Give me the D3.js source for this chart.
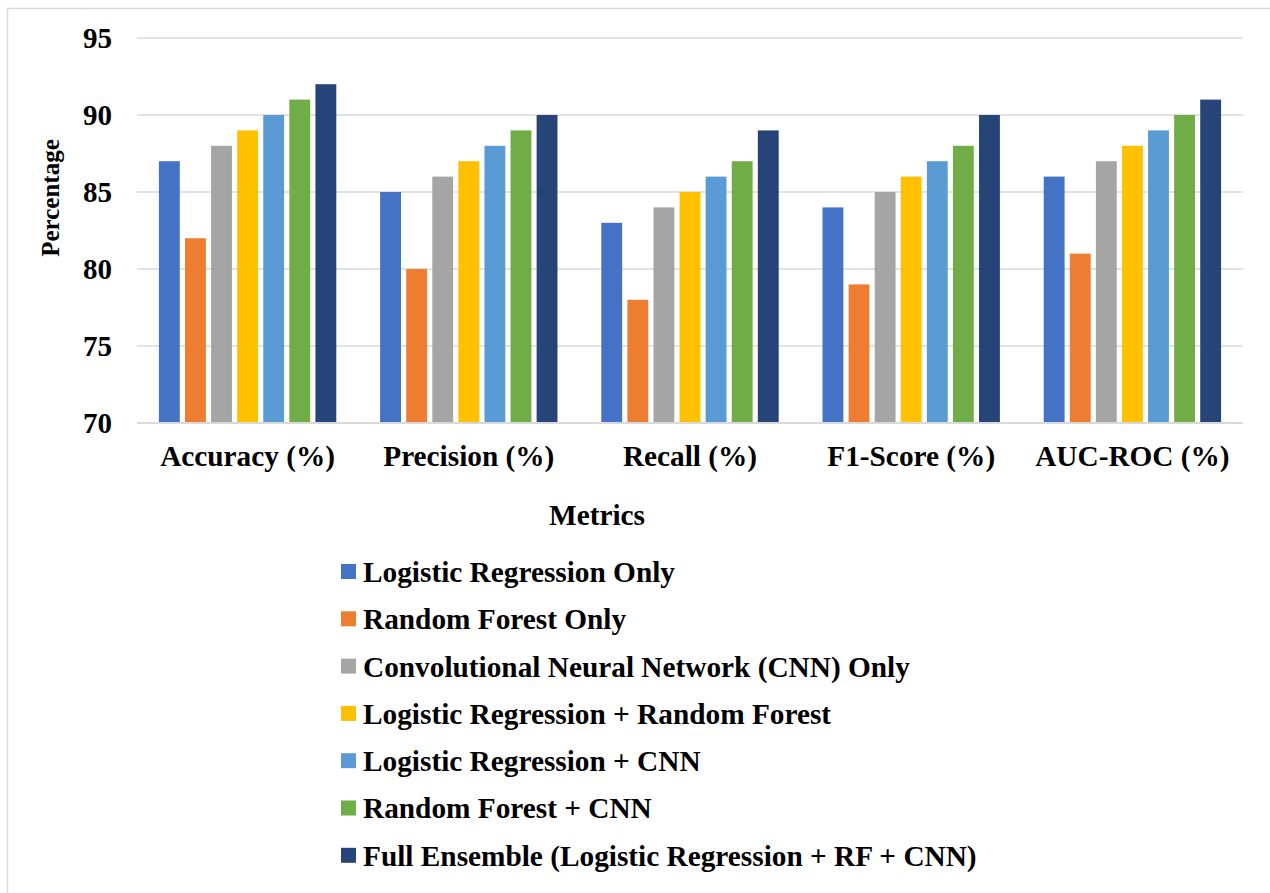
<!DOCTYPE html>
<html>
<head>
  <title>Metrics by model</title>
  <style>
    body { margin: 0; background: #fff; }
    .chart text { font-family: "Liberation Serif", "Times New Roman", serif; font-weight: bold; fill: #000; }
    .grid line { stroke: #d9d9d9; stroke-width: 1.5; }
  </style>
</head>
<body>
  <svg id="chart" class="chart" width="1270" height="893"></svg>

  <script src="https://d3js.org/d3.v7.min.js"></script>
  <script>
    // categories on the x axis
    const metrics = ['Accuracy (%)', 'Precision (%)', 'Recall (%)', 'F1-Score (%)', 'AUC-ROC (%)'];

    // one series per model
    const models = [
      'Logistic Regression Only',
      'Random Forest Only',
      'Convolutional Neural Network (CNN) Only',
      'Logistic Regression + Random Forest',
      'Logistic Regression + CNN',
      'Random Forest + CNN',
      'Full Ensemble (Logistic Regression + RF + CNN)'
    ];

    const logRegOnly  = [87, 85, 83, 84, 86];
    const rfOnly      = [82, 80, 78, 79, 81];
    const cnnOnly     = [88, 86, 84, 85, 87];
    const lrRf        = [89, 87, 85, 86, 88];
    const lrCnn       = [90, 88, 86, 87, 89];
    const rfCnn       = [91, 89, 87, 88, 90];
    const fullEnsemble = [92, 90, 89, 90, 91];

    const seriesValues = [logRegOnly, rfOnly, cnnOnly, lrRf, lrCnn, rfCnn, fullEnsemble];
    const colors = ['#4472C4', '#ED7D31', '#A5A5A5', '#FFC000', '#5B9BD5', '#70AD47', '#264478'];
    const yTicks = [70, 75, 80, 85, 90, 95];

    const svg = d3.select('#chart');

    // outer frame (only top/left visible in the original)
    svg.append('rect')
      .attr('x', 7.5).attr('y', 8.5)
      .attr('width', 1300).attr('height', 1000)
      .attr('fill', 'none').attr('stroke', '#d9d9d9').attr('stroke-width', 1.5);

    const plot = { left: 137, right: 1243, top: 38, bottom: 423 };

    const y = d3.scaleLinear().domain([70, 95]).range([plot.bottom, plot.top]);
    const x0 = d3.scaleBand().domain(metrics).range([plot.left, plot.right]);
    const x1 = d3.scaleBand().domain(models).range([0, x0.bandwidth()])
      .paddingInner(0.2).paddingOuter(0.84);

    // gridlines
    svg.append('g').attr('class', 'grid')
      .selectAll('line')
      .data(yTicks.slice(1))
      .join('line')
      .attr('x1', plot.left).attr('x2', plot.right)
      .attr('y1', d => y(d)).attr('y2', d => y(d));

    // bars
    const groups = svg.append('g')
      .selectAll('g')
      .data(metrics)
      .join('g')
      .attr('transform', d => `translate(${x0(d)},0)`);

    groups.selectAll('rect')
      .data((m, i) => models.map((s, j) => ({ model: s, value: seriesValues[j][i], color: colors[j] })))
      .join('rect')
      .attr('x', d => x1(d.model))
      .attr('y', d => y(d.value))
      .attr('width', x1.bandwidth())
      .attr('height', d => y(70) - y(d.value))
      .attr('fill', d => d.color);

    // baseline
    svg.append('line')
      .attr('x1', plot.left).attr('x2', plot.right)
      .attr('y1', y(70)).attr('y2', y(70))
      .attr('stroke', '#d9d9d9').attr('stroke-width', 2);

    // y axis labels
    const yAxis = d3.axisLeft(y).tickValues(yTicks).tickSize(0).tickPadding(25);
    const gy = svg.append('g').attr('transform', `translate(${plot.left},0)`).call(yAxis);
    gy.select('.domain').remove();
    gy.selectAll('text').attr('font-size', 29).attr('font-family', null).attr('dy', '0.34em');

    // x axis labels
    const xAxis = d3.axisBottom(x0).tickSize(0);
    const gx = svg.append('g').attr('transform', `translate(0,${plot.bottom})`).call(xAxis);
    gx.select('.domain').remove();
    gx.selectAll('text').attr('font-size', 29.3).attr('font-family', null)
      .attr('y', 43).attr('dy', 0);

    // axis titles
    svg.append('text')
      .attr('transform', 'translate(59,198) rotate(-90)')
      .attr('text-anchor', 'middle')
      .attr('font-size', 25)
      .text('Percentage');

    svg.append('text')
      .attr('x', 597).attr('y', 525)
      .attr('text-anchor', 'middle')
      .attr('font-size', 29.3)
      .text('Metrics');

    // legend
    const legend = svg.append('g')
      .selectAll('g')
      .data(models)
      .join('g')
      .attr('transform', (d, i) => `translate(341,${572 + i * 47.3})`);

    legend.append('rect')
      .attr('x', 0).attr('y', -8)
      .attr('width', 15).attr('height', 15)
      .attr('fill', (d, i) => colors[i]);

    legend.append('text')
      .attr('x', 22).attr('dy', '0.34em')
      .attr('font-size', 29.3)
      .text(d => d);
  </script>
</body>
</html>
